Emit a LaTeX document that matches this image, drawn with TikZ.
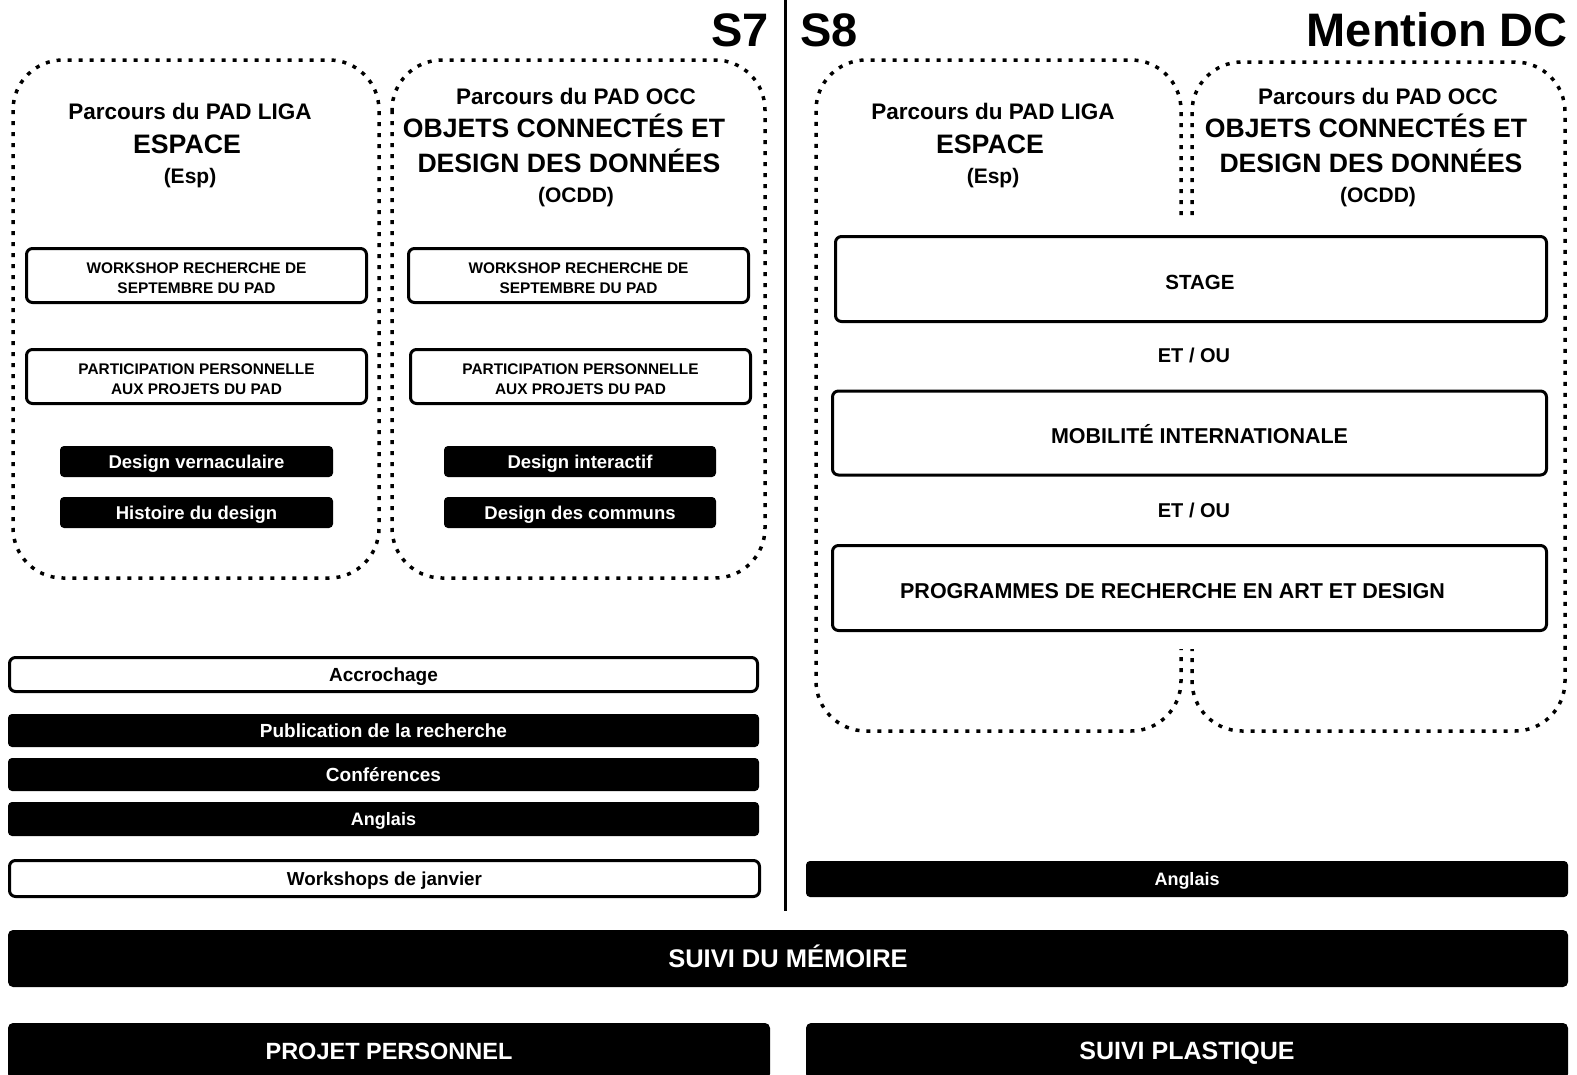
\documentclass[tikz,border=0pt]{standalone}
\usepackage{fontspec}
\setmainfont{Liberation Sans}
\newcommand{\fsz}[1]{\fontsize{#1}{#1}\selectfont}
\newcommand{\tx}[5]{\node[ttl, font=\bfseries\fsz{#4}] (#1) at (#2,{#3+0.358*#4}) {#5};}
\newcommand{\topstrut}{\rule{0pt}{15.5pt}}
\begin{document}
\begin{tikzpicture}[x=1pt,y=-1pt,
  wbox/.style={draw=black, line width=3pt, rounded corners=6pt, fill=white, inner sep=0pt},
  bbox/.style={fill=black, draw=none, rounded corners=4pt, text=white, inner sep=0pt},
  dotline/.style={line width=3.5pt, dash pattern=on 4pt off 7pt, rounded corners=50pt},
  ttl/.style={anchor=base, inner sep=0pt},
  sep/.style={line width=3pt}]
\useasboundingbox (0,0) rectangle (1577,1074);
\clip (0,0) rectangle (1577,1074);
\fill[white] (0,0) rectangle (1577,1074);

% header
\node[ttl, anchor=base east, font=\bfseries\fsz{47}] (s7) at (769,46) {S7};
\node[ttl, anchor=base west, font=\bfseries\fsz{47}] (s8) at (800,46) {S8};
\node[ttl, anchor=base east, font=\bfseries\fsz{47}] (dc) at (1568,46) {Mention DC};
\coordinate (vtop) at (785,0);
\coordinate (vbot) at (785,911);
\draw[sep] (vtop) -- (vbot);

% dotted groups S7
\draw[dotline] (13,60) rectangle (379,578);
\draw[dotline] (392,60) rectangle (765,578);
% dotted groups S8
\draw[dotline] (1181,215) -- (1181,60) -- (816,60) -- (816,731) -- (1181,731) -- (1181,649);
\draw[dotline] (1192,215) -- (1192,62) -- (1565,62) -- (1565,731) -- (1192,731) -- (1192,649);

% S7 titles
\tx{t1a}{190}{111}{22.5}{Parcours du PAD LIGA}
\tx{t1b}{187}{144}{26.7}{ESPACE}
\tx{t1c}{190}{176}{21}{(Esp)}
\tx{t2a}{576}{96.5}{22.5}{Parcours du PAD OCC}
\tx{t2b}{564}{128}{26.6}{OBJETS CONNECTÉS ET}
\tx{t2c}{569}{163}{26.6}{DESIGN DES DONNÉES}
\tx{t2d}{576}{194.5}{21}{(OCDD)}
% S8 titles
\tx{t3a}{993}{111}{22.5}{Parcours du PAD LIGA}
\tx{t3b}{990}{144}{26.7}{ESPACE}
\tx{t3c}{993}{176}{21}{(Esp)}
\tx{t4a}{1378}{96.5}{22.5}{Parcours du PAD OCC}
\tx{t4b}{1366}{128}{26.6}{OBJETS CONNECTÉS ET}
\tx{t4c}{1371}{163}{26.6}{DESIGN DES DONNÉES}
\tx{t4d}{1378}{194.5}{21}{(OCDD)}

% S7 inner boxes
\node[wbox, minimum width=340pt, minimum height=54pt, align=center,
  font=\bfseries\fontsize{15.4}{20}\selectfont] (ws1) at (196.5,275.5) {\topstrut WORKSHOP RECHERCHE DE\\SEPTEMBRE DU PAD};
\node[wbox, minimum width=340pt, minimum height=54pt, align=center,
  font=\bfseries\fontsize{15.4}{20}\selectfont] (pp1) at (196.5,376.5) {\topstrut PARTICIPATION PERSONNELLE\\AUX PROJETS DU PAD};
\node[wbox, minimum width=340pt, minimum height=54pt, align=center,
  font=\bfseries\fontsize{15.4}{20}\selectfont] (ws2) at (578.5,275.5) {\topstrut WORKSHOP RECHERCHE DE\\SEPTEMBRE DU PAD};
\node[wbox, minimum width=340pt, minimum height=54pt, align=center,
  font=\bfseries\fontsize{15.4}{20}\selectfont] (pp2) at (580.5,376.5) {\topstrut PARTICIPATION PERSONNELLE\\AUX PROJETS DU PAD};

\node[bbox, minimum width=273pt, minimum height=31pt, text height=13.2pt, text depth=0pt,
  font=\bfseries\fsz{18.5}] (dv) at (196.5,461.5) {Design vernaculaire};
\node[bbox, minimum width=273pt, minimum height=31pt, text height=13.2pt, text depth=0pt,
  font=\bfseries\fsz{18.5}] (hd) at (196.5,512.5) {Histoire du design};
\node[bbox, minimum width=272pt, minimum height=31pt, text height=13.2pt, text depth=0pt,
  font=\bfseries\fsz{18.5}] (di) at (580,461.5) {Design interactif};
\node[bbox, minimum width=272pt, minimum height=31pt, text height=13.2pt, text depth=0pt,
  font=\bfseries\fsz{18.5}] (dcm) at (580,512.5) {Design des communs};

% S7 bars
\node[wbox, minimum width=748pt, minimum height=34pt, text height=13.6pt, text depth=0pt,
  font=\bfseries\fsz{19}] (acc) at (383.5,674.5) {Accrochage};
\node[bbox, minimum width=751pt, minimum height=33pt, text height=13.6pt, text depth=0pt,
  font=\bfseries\fsz{19}] (pub) at (383.5,730.5) {Publication de la recherche};
\node[bbox, minimum width=751pt, minimum height=33pt, text height=13.6pt, text depth=0pt,
  font=\bfseries\fsz{19}] (conf) at (383.5,774.5) {Conférences};
\node[bbox, minimum width=751pt, minimum height=34pt, text height=12.9pt, text depth=0pt,
  font=\bfseries\fsz{18}] (ang1) at (383.5,819) {Anglais};
\node[wbox, minimum width=750pt, minimum height=36pt, text height=13.4pt, text depth=0pt,
  font=\bfseries\fsz{18.8}] (wsj) at (384.5,878.5) {Workshops de janvier};

% S8 boxes
\node[wbox, minimum width=711pt, minimum height=85pt, text height=20.7pt, text depth=0pt,
  font=\bfseries\fsz{20.5}] (stage) at (1191,279) {\hspace*{18pt}STAGE};
\node[ttl, font=\bfseries\fsz{20}] (etou1) at (1194,{355+7.2}) {ET / OU};
\node[wbox, minimum width=714pt, minimum height=84pt, text height=21.4pt, text depth=0pt,
  font=\bfseries\fsz{21.5}] (mob) at (1189.5,433) {\hspace*{20pt}MOBILITÉ INTERNATIONALE};
\node[ttl, font=\bfseries\fsz{20}] (etou2) at (1194,{510+7.2}) {ET / OU};
\node[wbox, minimum width=714pt, minimum height=85pt, text height=21.4pt, text depth=0pt,
  font=\bfseries\fsz{21.5}] (prog) at (1189.5,588) {PROGRAMMES DE RECHERCHE EN ART ET DESIGN\hspace*{34pt}};
\node[bbox, minimum width=762pt, minimum height=36pt, text height=12.9pt, text depth=0pt,
  font=\bfseries\fsz{18}] (ang2) at (1187,879) {Anglais};

% bottom
\node[bbox, minimum width=1560pt, minimum height=57pt, rounded corners=5pt, text height=18.3pt, text depth=0pt,
  font=\bfseries\fsz{25.5}] (mem) at (788,958.5) {SUIVI DU MÉMOIRE};
\node[bbox, minimum width=762pt, minimum height=56pt, rounded corners=5pt, text height=16.8pt, text depth=0pt,
  font=\bfseries\fsz{23.5}] (pers) at (389,1051) {PROJET PERSONNEL};
\node[bbox, minimum width=762pt, minimum height=56pt, rounded corners=5pt, text height=17.9pt, text depth=0pt,
  font=\bfseries\fsz{25}] (plast) at (1187,1051) {SUIVI PLASTIQUE};
\end{tikzpicture}
\end{document}
